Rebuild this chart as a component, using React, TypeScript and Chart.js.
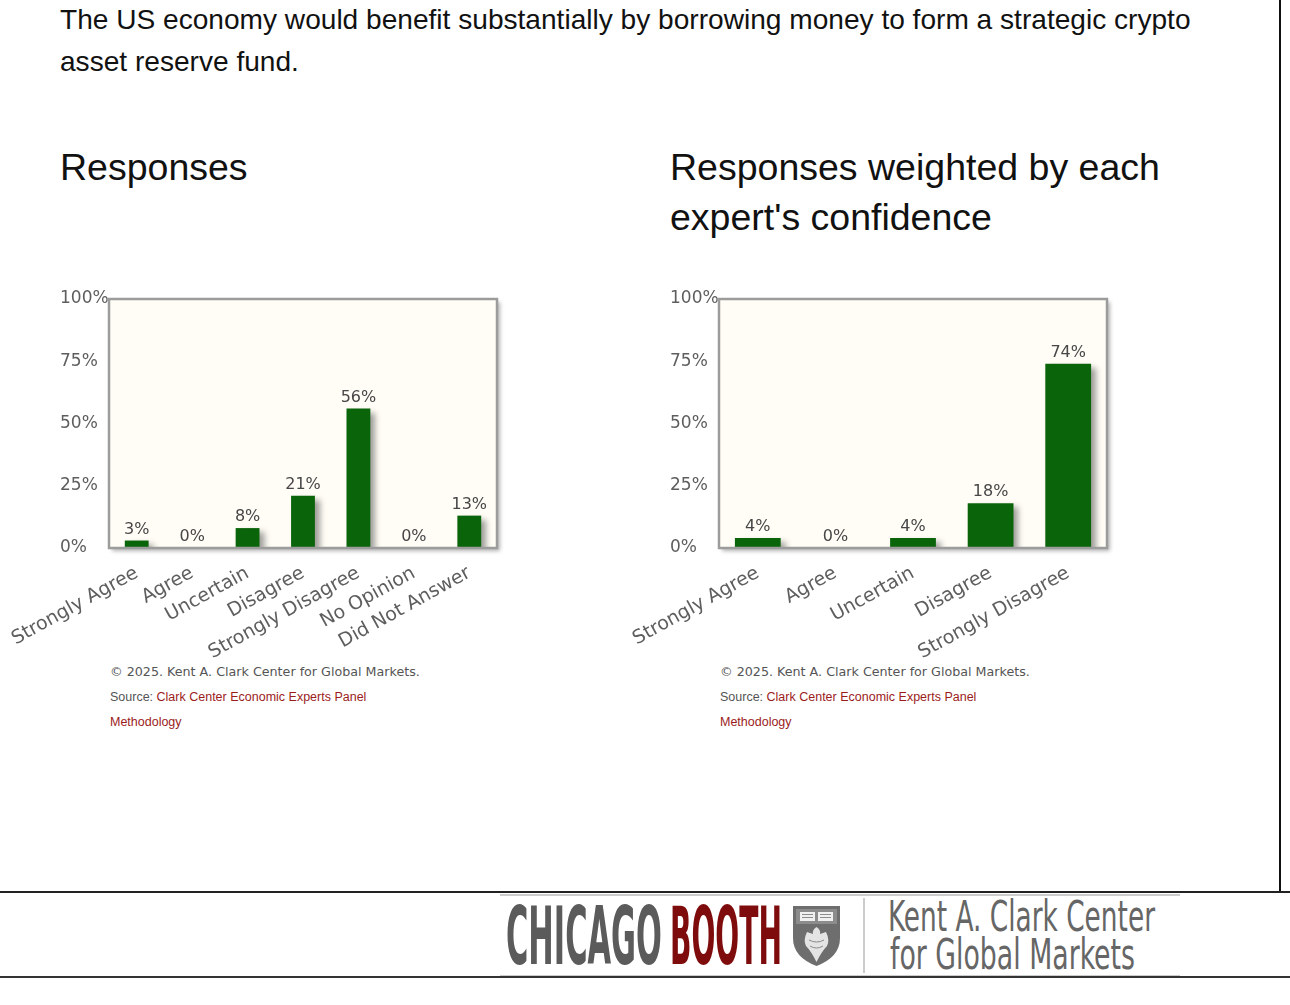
import { useEffect, useRef } from 'react';
import { Chart, registerables } from 'chart.js';
import type { Plugin } from 'chart.js';

Chart.register(...registerables);

const responseLabels = ['Strongly Agree', 'Agree', 'Uncertain', 'Disagree', 'Strongly Disagree', 'No Opinion', 'Did Not Answer'];
const responseValues = [3, 0, 8, 21, 56, 0, 13];

const weightedLabels = ['Strongly Agree', 'Agree', 'Uncertain', 'Disagree', 'Strongly Disagree'];
const weightedValues = [4, 0, 4, 18, 74];

const yTickValues = [0, 25, 50, 75, 100];

const BAR_GREEN = '#0a640a';
const AXIS_GREY = '#5e5e5e';
const CLARK_RED = '#9b1c1c';
const CHART_FONT = '"DejaVu Sans", Verdana, sans-serif';
const HEAD_FONT = '"Liberation Sans", Arial, sans-serif';

// cream plot box with shadow, bar shadows, grey frame and value labels
const framePlugin: Plugin<'bar'> = {
  id: 'plotFrame',
  beforeDraw(chart) {
    const { ctx, chartArea: a } = chart;
    ctx.save();
    ctx.shadowColor = 'rgba(0,0,0,0.3)';
    ctx.shadowBlur = 4;
    ctx.shadowOffsetX = 3;
    ctx.shadowOffsetY = 3;
    ctx.fillStyle = '#fffdf6';
    ctx.fillRect(a.left, a.top, a.width, a.height);
    ctx.restore();
  },
  beforeDatasetsDraw(chart) {
    const { ctx } = chart;
    ctx.save();
    ctx.shadowColor = 'rgba(0,0,0,0.38)';
    ctx.shadowBlur = 6;
    ctx.shadowOffsetX = 5;
    ctx.shadowOffsetY = 4;
  },
  afterDatasetsDraw(chart) {
    const { ctx, chartArea: a } = chart;
    ctx.restore();
    ctx.save();
    ctx.strokeStyle = '#9c9c9c';
    ctx.lineWidth = 2.5;
    ctx.strokeRect(a.left, a.top, a.width, a.height);

    ctx.fillStyle = '#474747';
    ctx.font = `16px ${CHART_FONT}`;
    ctx.textAlign = 'center';
    ctx.textBaseline = 'alphabetic';
    const values = chart.data.datasets[0].data as number[];
    chart.getDatasetMeta(0).data.forEach((bar, i) => {
      ctx.fillText(`${values[i]}%`, bar.x, bar.y - 7);
    });
    ctx.restore();
  },
};

interface ResponseBarsProps {
  labels: string[];
  values: number[];
  barPercentage: number;
  left: number;
}

const ResponseBars = ({ labels, values, barPercentage, left }: ResponseBarsProps) => {
  const canvasRef = useRef<HTMLCanvasElement>(null);

  useEffect(() => {
    if (!canvasRef.current) return;

    const chart = new Chart(canvasRef.current, {
      type: 'bar',
      data: {
        labels,
        datasets: [
          {
            data: values,
            backgroundColor: BAR_GREEN,
            barPercentage,
            categoryPercentage: 1,
          },
        ],
      },
      options: {
        animation: false,
        responsive: false,
        events: [],
        layout: { padding: { left: 60, top: 19, right: 23, bottom: 0 } },
        plugins: {
          legend: { display: false },
          tooltip: { enabled: false },
        },
        scales: {
          x: {
            grid: { display: false, drawTicks: false },
            border: { display: false },
            ticks: {
              color: AXIS_GREY,
              font: { family: CHART_FONT, size: 19 },
              minRotation: 29,
              maxRotation: 29,
              autoSkip: false,
              padding: 14,
            },
            afterFit: (scale) => {
              // keep the plot box fixed; long rotated labels may spill left
              scale.height = 112;
              scale.paddingLeft = 0;
              scale.paddingRight = 0;
            },
          },
          y: {
            min: 0,
            max: 100,
            grid: { display: false, drawTicks: false },
            border: { display: false },
            afterBuildTicks: (scale) => {
              scale.ticks = yTickValues.map((value) => ({ value }));
            },
            ticks: {
              color: AXIS_GREY,
              font: { family: CHART_FONT, size: 17 },
              crossAlign: 'far',
              padding: 0,
              callback: (v) => `${v}%`,
            },
            afterFit: (scale) => {
              scale.width = 49;
            },
          },
        },
      },
      plugins: [framePlugin],
    });

    return () => {
      chart.destroy();
    };
  }, [labels, values, barPercentage]);

  return (
    <canvas
      ref={canvasRef}
      width={520}
      height={380}
      style={{ position: 'absolute', left, top: 280, display: 'block' }}
    />
  );
};

const Credits = ({ left }: { left: number }) => (
  <>
    <div style={{ position: 'absolute', left, top: 665, font: `12.7px ${CHART_FONT}`, lineHeight: '14px', color: '#555', whiteSpace: 'nowrap' }}>
      © 2025. Kent A. Clark Center for Global Markets.
    </div>
    <div style={{ position: 'absolute', left, top: 690, font: `12.5px ${HEAD_FONT}`, lineHeight: '14px', color: '#555', whiteSpace: 'nowrap' }}>
      Source: <span style={{ color: CLARK_RED }}>Clark Center Economic Experts Panel</span>
    </div>
    <div style={{ position: 'absolute', left, top: 715, font: `12.5px ${HEAD_FONT}`, lineHeight: '14px', color: CLARK_RED }}>
      Methodology
    </div>
  </>
);

const BoothLogo = () => (
  <svg
    width={680}
    height={82}
    viewBox="500 894 680 82"
    style={{ position: 'absolute', left: 500, top: 894, background: '#fff' }}
  >
    <line x1={500} y1={895} x2={1180} y2={895} stroke="#bbb" strokeWidth={1.5} />
    <line x1={500} y1={976} x2={1180} y2={976} stroke="#bbb" strokeWidth={1.5} />
    <text
      x={506}
      y={964}
      textLength={156}
      lengthAdjust="spacingAndGlyphs"
      fill="#5b5b5b"
      style={{ font: 'bold 80px "DejaVu Sans Condensed", "DejaVu Sans", sans-serif' }}
    >
      CHICAGO
    </text>
    <text
      x={670}
      y={964}
      textLength={112}
      lengthAdjust="spacingAndGlyphs"
      fill="#7e0c0c"
      style={{ font: 'bold 80px "DejaVu Sans Condensed", "DejaVu Sans", sans-serif' }}
    >
      BOOTH
    </text>
    {/* university shield */}
    <path d="M793 906 H840 V938 Q840 957 816.5 966 Q793 957 793 938 Z" fill="#6e6e6e" />
    <rect x={796} y={909} width={41} height={15} fill="#8c8c8c" />
    <path d="M800 912 H815 V921 H800 Z M818 912 H833 V921 H818 Z" fill="#f0f0f0" />
    <path d="M802 914.5 H813 M802 917.5 H813 M820 914.5 H831 M820 917.5 H831" stroke="#8c8c8c" strokeWidth={1} />
    <path d="M816.5 927 Q812 930 813 934 L807 932 Q803 940 806 946 Q811 951 816.5 962 Q822 951 827 946 Q830 940 826 932 L820 934 Q821 930 816.5 927 Z" fill="#e4e4e4" />
    <path d="M809 940 Q816.5 944 824 940 M810 946 Q816.5 950 823 946" stroke="#8a8a8a" strokeWidth={1} fill="none" />
    <line x1={864} y1={898} x2={864} y2={973} stroke="#aaa" strokeWidth={1.2} />
    <text
      x={888}
      y={931}
      textLength={267}
      lengthAdjust="spacingAndGlyphs"
      fill="#666"
      style={{ font: '42px "Liberation Sans Narrow", "DejaVu Sans Condensed", sans-serif' }}
    >
      Kent A. Clark Center
    </text>
    <text
      x={890}
      y={969}
      textLength={245}
      lengthAdjust="spacingAndGlyphs"
      fill="#666"
      style={{ font: '42px "Liberation Sans Narrow", "DejaVu Sans Condensed", sans-serif' }}
    >
      for Global Markets
    </text>
  </svg>
);

export default function App() {
  return (
    <div
      style={{
        position: 'absolute',
        left: 0,
        top: 0,
        width: 1290,
        height: 1005,
        background: '#fff',
        overflow: 'hidden',
      }}
    >
      <div
        style={{
          position: 'absolute',
          left: 60,
          top: -1,
          font: `28.1px ${HEAD_FONT}`,
          lineHeight: '42px',
          color: '#111',
          whiteSpace: 'nowrap',
        }}
      >
        The US economy would benefit substantially by borrowing money to form a strategic crypto
        <br />
        asset reserve fund.
      </div>

      <div style={{ position: 'absolute', left: 60, top: 142, font: `37.5px ${HEAD_FONT}`, lineHeight: '50px', color: '#111' }}>
        Responses
      </div>
      <div style={{ position: 'absolute', left: 670, top: 142, font: `37.5px ${HEAD_FONT}`, lineHeight: '50px', color: '#111', whiteSpace: 'nowrap' }}>
        Responses weighted by each
        <br />
        expert's confidence
      </div>

      <ResponseBars labels={responseLabels} values={responseValues} barPercentage={0.43} left={0} />
      <ResponseBars labels={weightedLabels} values={weightedValues} barPercentage={0.59} left={610} />

      <Credits left={110} />
      <Credits left={720} />

      {/* page frame lines */}
      <div style={{ position: 'absolute', left: 1279, top: 0, width: 2, height: 893, background: '#111' }} />
      <div style={{ position: 'absolute', left: 0, top: 891, width: 1290, height: 2, background: '#222' }} />
      <div style={{ position: 'absolute', left: 0, top: 976, width: 1290, height: 2, background: '#333' }} />

      <BoothLogo />
    </div>
  );
}
